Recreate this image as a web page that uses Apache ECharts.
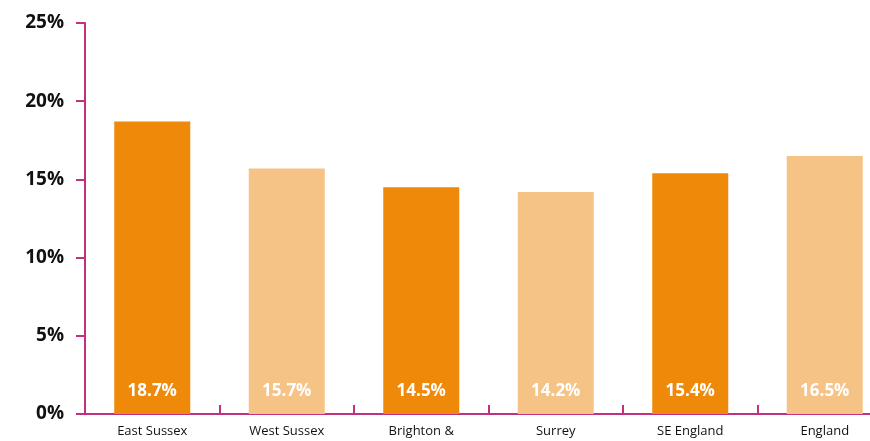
<!DOCTYPE html>
<html>
<head>
<meta charset="utf-8">
<script src="https://cdn.jsdelivr.net/npm/echarts@6/dist/echarts.min.js"></script>
<style>
  html, body { margin: 0; padding: 0; background: #fff; }
  #chart { width: 870px; height: 441px; }
</style>
</head>
<body>
<div id="chart"></div>
<script>
// Share of population by area (%)
const categories = ['East Sussex', 'West Sussex', 'Brighton &', 'Surrey', 'SE England', 'England'];
const values = [18.7, 15.7, 14.5, 14.2, 15.4, 16.5];
const yTicks = [0, 5, 10, 15, 20, 25];

const darkOrange = '#EF8909';
const lightOrange = '#F6C386';
const axisColor = '#C2307E';

const chart = echarts.init(document.getElementById('chart'), null, { renderer: 'canvas' });

chart.setOption({
  animation: false,
  // plot area runs past the right edge of the canvas
  grid: {
    left: 85, width: 807, top: 23, bottom: 27,
    containLabel: false,
    outerBoundsMode: 'none'
  },
  xAxis: {
    type: 'category',
    data: categories,
    axisLine: { lineStyle: { color: axisColor, width: 2 } },
    axisTick: { show: true, inside: true, length: 9, lineStyle: { color: axisColor, width: 2 } },
    axisLabel: {
      color: '#111',
      fontFamily: 'Open Sans',
      fontSize: 13,
      margin: 11
    }
  },
  yAxis: {
    type: 'value',
    min: yTicks[0],
    max: yTicks[yTicks.length - 1],
    interval: 5,
    splitLine: { show: false },
    axisLine: { show: true, lineStyle: { color: axisColor, width: 2 } },
    axisTick: { show: true, length: 9, lineStyle: { color: axisColor, width: 2 } },
    axisLabel: {
      color: '#111',
      fontFamily: 'Open Sans',
      fontWeight: 'bold',
      fontSize: 19,
      margin: 21,
      formatter: v => v + '%'
    }
  },
  series: [{
    type: 'bar',
    data: values.map((v, i) => ({
      value: v,
      itemStyle: { color: i % 2 === 0 ? darkOrange : lightOrange }
    })),
    barWidth: 76,
    label: {
      show: true,
      position: 'insideBottom',
      distance: 14,
      color: '#fff',
      fontFamily: 'Open Sans',
      fontWeight: 'bold',
      fontSize: 17,
      formatter: p => p.value.toFixed(1) + '%'
    }
  }]
});
</script>
</body>
</html>
